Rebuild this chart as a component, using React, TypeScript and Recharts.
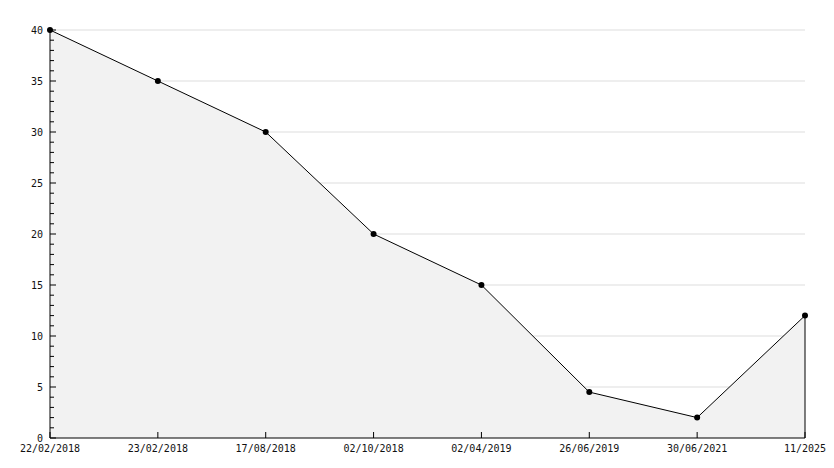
import React from 'react';
import {
  AreaChart,
  Area,
  XAxis,
  YAxis,
  CartesianGrid,
  ReferenceLine
} from 'recharts';

const dates = [
  '22/02/2018',
  '23/02/2018',
  '17/08/2018',
  '02/10/2018',
  '02/04/2019',
  '26/06/2019',
  '30/06/2021',
  '11/2025'
];
const values = [40, 35, 30, 20, 15, 4.5, 2, 12];
const yTicks = Array.from({ length: 41 }, (_, i) => i);
const gridValues = [5, 10, 15, 20, 25, 30, 35, 40];

const data = dates.map((d, i) => ({ date: d, value: values[i] }));

const font = '"DejaVu Sans Mono", monospace';

const YTick = (props: any) => {
  const { x, y, payload } = props;
  const major = payload.value % 5 === 0;
  return (
    <g>
      <line x1={x} y1={y} x2={x + (major ? 6 : 4)} y2={y} stroke="#000" />
      {major && (
        <text x={x - 7} y={y} dy={4} textAnchor="end" fontSize={10} fontFamily={font} fill="#111">
          {payload.value}
        </text>
      )}
    </g>
  );
};

const XTick = (props: any) => {
  const { x, y, payload } = props;
  return (
    <g>
      <line x1={x} y1={y} x2={x} y2={y - 6} stroke="#000" />
      <text x={x} y={y} dy={14} textAnchor="middle" fontSize={10} fontFamily={font} fill="#111">
        {payload.value}
      </text>
    </g>
  );
};

const Dot = (props: any) => {
  const { cx, cy } = props;
  return <circle cx={cx} cy={cy} r={3} fill="#000" />;
};

export default function App() {
  const last = dates.length - 1;
  return (
    <div style={{ position: 'absolute', left: 0, top: 0, background: '#fff' }}>
      <AreaChart width={834} height={468} data={data} margin={{ top: 30, right: 29, left: 0, bottom: 0 }}>
        <CartesianGrid vertical={false} horizontalValues={gridValues} stroke="#dddddd" />
        <XAxis
          dataKey="date"
          height={30}
          interval={0}
          tickSize={0}
          tickMargin={0}
          tick={<XTick />}
          axisLine={{ stroke: '#000' }}
        />
        <YAxis
          width={50}
          domain={[0, 40]}
          ticks={yTicks}
          interval={0}
          tickSize={0}
          tickMargin={0}
          tick={<YTick />}
          axisLine={{ stroke: '#000' }}
        />
        <Area
          type="linear"
          dataKey="value"
          stroke="#000"
          strokeWidth={1}
          fill="#f2f2f2"
          fillOpacity={1}
          dot={<Dot />}
          activeDot={false}
          isAnimationActive={false}
        />
        <ReferenceLine
          segment={[
            { x: dates[last], y: 0 },
            { x: dates[last], y: values[last] }
          ]}
          stroke="#000"
        />
      </AreaChart>
    </div>
  );
}
